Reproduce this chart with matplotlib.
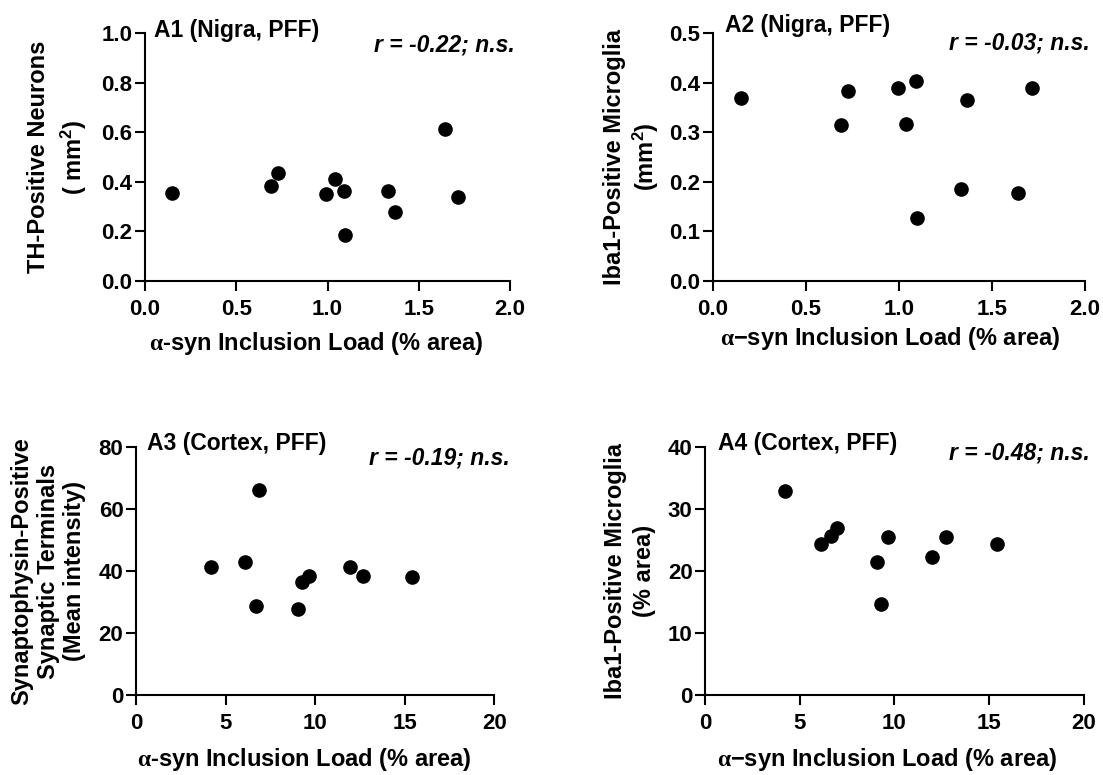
import numpy as np
import matplotlib
matplotlib.use('Agg')
import matplotlib.pyplot as plt
from matplotlib.ticker import FormatStrFormatter

plt.rcParams['font.family'] = ['Liberation Sans', 'DejaVu Sans']
plt.rcParams['font.weight'] = 'bold'
plt.rcParams['mathtext.default'] = 'regular'
plt.rcParams['mathtext.fontset'] = 'custom'
plt.rcParams['mathtext.rm'] = 'Liberation Serif'

# nigra data (same animals in A1 and A2)
nigra_load = [0.145, 0.69, 0.727, 0.992, 1.04, 1.088, 1.098, 1.334, 1.367, 1.643, 1.717]
th_neurons = [0.355, 0.383, 0.437, 0.351, 0.41, 0.362, 0.184, 0.364, 0.277, 0.613, 0.34]
nigra_load2 = [0.148, 0.689, 0.727, 0.992, 1.04, 1.089, 1.098, 1.333, 1.367, 1.638, 1.716]
iba1_nigra = [0.368, 0.315, 0.383, 0.389, 0.316, 0.403, 0.128, 0.186, 0.364, 0.177, 0.39]

# cortex data
ctx_load3 = [4.21, 6.07, 6.71, 6.89, 9.02, 9.26, 9.67, 11.96, 12.68, 15.40]
synaptophysin = [41.2, 42.9, 28.7, 66.0, 27.9, 36.4, 38.3, 41.4, 38.4, 38.1]
ctx_load4 = [4.23, 6.11, 6.67, 6.95, 9.06, 9.30, 9.69, 12.0, 12.71, 15.40]
iba1_ctx = [32.9, 24.4, 25.7, 27.0, 21.5, 14.7, 25.5, 22.2, 25.5, 24.4]

alpha = r'$\mathrm{α}$'

panels = [
    dict(rect=[0.1315, 0.6374, 0.3309, 0.32], x=nigra_load, y=th_neurons,
         xlim=(0, 2), ylim=(0, 1), xt=[0, 0.5, 1.0, 1.5, 2.0], yt=[0, 0.2, 0.4, 0.6, 0.8, 1.0],
         xfmt='%.1f', yfmt='%.1f', title='A1 (Nigra, PFF)', r='r = -0.22; n.s.',
         ylabel='TH-Positive Neurons\n( mm$^2$)', ls=1.4, xlabel=alpha + '-syn Inclusion Load (% area)',
         tpos=(0.024, 1.012), rpos=(1.013, 0.952), ylpos=-0.238, xlpos=(0.468, -0.25)),
    dict(rect=[0.6464, 0.6374, 0.3373, 0.32], x=nigra_load2, y=iba1_nigra,
         xlim=(0, 2), ylim=(0, 0.5), xt=[0, 0.5, 1.0, 1.5, 2.0], yt=[0, 0.1, 0.2, 0.3, 0.4, 0.5],
         xfmt='%.1f', yfmt='%.1f', title='A2 (Nigra, PFF)', r='r = -0.03; n.s.',
         ylabel='Iba1-Positive Microglia\n(mm$^2$)', ls=1.2, xlabel=alpha + '\u2212syn Inclusion Load (% area)',
         tpos=(0.033, 1.032), rpos=(1.013, 0.958), ylpos=-0.218, xlpos=(0.476, -0.23)),
    dict(rect=[0.1233, 0.1032, 0.325, 0.32], x=ctx_load3, y=synaptophysin,
         xlim=(0, 20), ylim=(0, 80), xt=[0, 5, 10, 15, 20], yt=[0, 20, 40, 60, 80],
         xfmt='%d', yfmt='%d', title='A3 (Cortex, PFF)', r='r = -0.19; n.s.',
         ylabel='Synaptophysin-Positive\nSynaptic Terminals\n(Mean intensity)', ls=1.2,
         xlabel=alpha + '-syn Inclusion Load (% area)',
         tpos=(0.032, 1.016), rpos=(1.044, 0.956), ylpos=-0.245, xlpos=(0.469, -0.262)),
    dict(rect=[0.6392, 0.1032, 0.3432, 0.32], x=ctx_load4, y=iba1_ctx,
         xlim=(0, 20), ylim=(0, 40), xt=[0, 5, 10, 15, 20], yt=[0, 10, 20, 30, 40],
         xfmt='%d', yfmt='%d', title='A4 (Cortex, PFF)', r='r = -0.48; n.s.',
         ylabel='Iba1-Positive Microglia\n(% area)', ls=1.35, xlabel=alpha + '\u2212syn Inclusion Load (% area)',
         tpos=(0.033, 1.016), rpos=(1.015, 0.976), ylpos=-0.198, xlpos=(0.481, -0.262)),
]

fig = plt.figure(figsize=(11.03, 7.75), dpi=100)

for p in panels:
    ax = fig.add_axes(p['rect'])
    ax.plot(p['x'], p['y'], 'o', color='black', markersize=9.5, clip_on=False)
    ax.set_xlim(*p['xlim'])
    ax.set_ylim(*p['ylim'])
    ax.set_xticks(p['xt'])
    ax.set_yticks(p['yt'])
    ax.xaxis.set_major_formatter(FormatStrFormatter(p['xfmt']))
    ax.yaxis.set_major_formatter(FormatStrFormatter(p['yfmt']))
    for s in ['top', 'right']:
        ax.spines[s].set_visible(False)
    for s in ['left', 'bottom']:
        ax.spines[s].set_linewidth(1.5)
    ax.tick_params(direction='out', length=7, width=1.5, labelsize=16)
    ax.tick_params(axis='x', pad=6)
    ax.tick_params(axis='y', pad=2)
    ax.set_ylabel(p['ylabel'], fontsize=17, fontweight='bold', linespacing=p['ls'])
    ax.yaxis.set_label_coords(p['ylpos'], 0.5)
    ax.yaxis.label.set_verticalalignment('center')
    ax.text(p['xlpos'][0], p['xlpos'][1], p['xlabel'], transform=ax.transAxes,
            ha='center', va='center', fontsize=17, fontweight='bold')
    ax.text(p['tpos'][0], p['tpos'][1], p['title'], transform=ax.transAxes,
            ha='left', va='center', fontsize=16.5, fontweight='bold')
    ax.text(p['rpos'][0], p['rpos'][1], p['r'], transform=ax.transAxes,
            ha='right', va='center', fontsize=16.5, fontweight='bold', style='italic')

fig.savefig('out.png', dpi=100, facecolor='white')
